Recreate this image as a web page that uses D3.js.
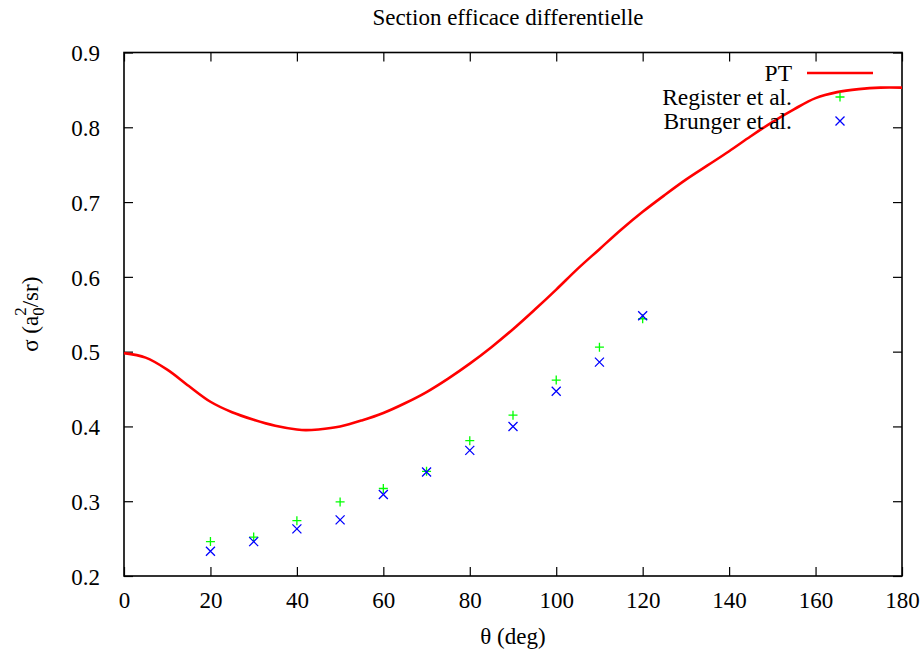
<!DOCTYPE html>
<html>
<head>
<meta charset="utf-8">
<script src="https://cdn.jsdelivr.net/npm/d3@7"></script>
<style>
  body { margin: 0; background: #fff; }
  text { font-family: "Liberation Serif", "DejaVu Serif", serif; fill: #000; }
</style>
</head>
<body>
<div class="chart-box"></div>
<script>
// PT curve
var pt_angle = [0, 5, 10, 15, 20, 25, 30, 35, 40, 42, 45, 50, 55, 60, 65, 70, 75, 80, 85, 90,
                95, 100, 105, 110, 115, 120, 125, 130, 135, 140, 145, 150, 155, 160, 165, 170, 175, 180];
var pt_sigma = [0.498, 0.492, 0.476, 0.454, 0.433, 0.419, 0.409, 0.401, 0.396, 0.395, 0.396, 0.400,
                0.408, 0.418, 0.431, 0.446, 0.464, 0.484, 0.506, 0.530, 0.556, 0.583, 0.611, 0.637,
                0.663, 0.687, 0.709, 0.730, 0.749, 0.768, 0.788, 0.807, 0.824, 0.839, 0.847, 0.851,
                0.853, 0.853];

var exp_angle = [20, 30, 40, 50, 60, 70, 80, 90, 100, 110, 120];
var register_sigma = [0.246, 0.252, 0.274, 0.299, 0.317, 0.340, 0.381, 0.415, 0.462, 0.506, 0.544];
var brunger_sigma = [0.233, 0.246, 0.263, 0.275, 0.309, 0.339, 0.368, 0.400, 0.447, 0.486, 0.548];

var x_ticks = [0, 20, 40, 60, 80, 100, 120, 140, 160, 180];
var y_ticks = [0.2, 0.3, 0.4, 0.5, 0.6, 0.7, 0.8, 0.9];

var margin = {top: 52.5, right: 22, bottom: 77, left: 124};
var svg_width = 924, svg_height = 653;
var plot_width = svg_width - margin.left - margin.right;
var plot_height = svg_height - margin.top - margin.bottom;
var serif = '"Liberation Serif", "DejaVu Serif", serif';

var svg = d3.select(".chart-box").append("svg")
    .attr("width", svg_width)
    .attr("height", svg_height);

var g = svg.append("g")
    .attr("transform", "translate(" + margin.left + "," + margin.top + ")");

var x = d3.scaleLinear().domain([0, 180]).range([0, plot_width]);
var y = d3.scaleLinear().domain([0.2, 0.9]).range([plot_height, 0]);

var tick_len = 9;

// axes with inward ticks, mirrored on top and right
function style_axis(sel) {
  sel.attr("font-family", serif).attr("font-size", 23);
  sel.select(".domain").remove();
  sel.selectAll(".tick line").attr("stroke", "#000").attr("stroke-width", 1.2);
  sel.selectAll(".tick text")
      .style("font-family", serif)
      .style("font-size", "23px");
}

g.append("g")
    .attr("transform", "translate(0," + plot_height + ")")
    .call(d3.axisBottom(x).tickValues(x_ticks).tickSizeInner(-tick_len).tickSizeOuter(0).tickPadding(22))
    .call(style_axis)
  .selectAll(".tick text").attr("dy", "0.45em");

g.append("g")
    .call(d3.axisTop(x).tickValues(x_ticks).tickSizeInner(-tick_len).tickSizeOuter(0).tickFormat(""))
    .call(style_axis);

g.append("g")
    .call(d3.axisLeft(y).tickValues(y_ticks).tickSizeInner(-tick_len).tickSizeOuter(0).tickPadding(24)
          .tickFormat(d3.format(".1f")))
    .call(style_axis)
  .selectAll(".tick text").attr("dy", "0.36em");

g.append("g")
    .attr("transform", "translate(" + plot_width + ",0)")
    .call(d3.axisRight(y).tickValues(y_ticks).tickSizeInner(-tick_len).tickSizeOuter(0).tickFormat(""))
    .call(style_axis);

// frame
g.append("rect")
    .attr("width", plot_width)
    .attr("height", plot_height)
    .attr("fill", "none")
    .attr("stroke", "#000")
    .attr("stroke-width", 1.6);

// PT curve
var pt_data = pt_angle.map(function(d, i) { return {a: d, s: pt_sigma[i]}; });
var line = d3.line()
    .x(function(d) { return x(d.a); })
    .y(function(d) { return y(d.s); })
    .curve(d3.curveCatmullRom.alpha(0.5));

g.append("path")
    .datum(pt_data)
    .attr("d", line)
    .attr("fill", "none")
    .attr("stroke", "#ff0000")
    .attr("stroke-width", 2.6);

var m = 4.5;
function plus_path(cx, cy) {
  return "M" + (cx - m) + "," + cy + "H" + (cx + m) + "M" + cx + "," + (cy - m) + "V" + (cy + m);
}
function cross_path(cx, cy) {
  return "M" + (cx - m) + "," + (cy - m) + "L" + (cx + m) + "," + (cy + m) +
         "M" + (cx - m) + "," + (cy + m) + "L" + (cx + m) + "," + (cy - m);
}

g.selectAll(".register")
    .data(exp_angle)
  .enter().append("path")
    .attr("class", "register")
    .attr("d", function(d, i) { return plus_path(x(d), y(register_sigma[i])); })
    .attr("stroke", "#00ff00")
    .attr("stroke-width", 1.3)
    .attr("fill", "none");

g.selectAll(".brunger")
    .data(exp_angle)
  .enter().append("path")
    .attr("class", "brunger")
    .attr("d", function(d, i) { return cross_path(x(d), y(brunger_sigma[i])); })
    .attr("stroke", "#0000ff")
    .attr("stroke-width", 1.3)
    .attr("fill", "none");

// legend
var legend = svg.append("g");
var leg_text_x = 792, leg_sym_x = 840, leg_y0 = 73;
var leg_items = ["PT", "Register et al.", "Brunger et al."];
legend.selectAll("text")
    .data(leg_items)
  .enter().append("text")
    .attr("x", leg_text_x)
    .attr("y", function(d, i) { return leg_y0 + i * 24 + 8; })
    .attr("text-anchor", "end")
    .style("font-size", "23.5px")
    .text(function(d) { return d; });

legend.append("line")
    .attr("x1", 807).attr("x2", 873)
    .attr("y1", leg_y0).attr("y2", leg_y0)
    .attr("stroke", "#ff0000").attr("stroke-width", 2.6);
legend.append("path")
    .attr("d", plus_path(leg_sym_x, leg_y0 + 24))
    .attr("stroke", "#00ff00").attr("stroke-width", 1.3);
legend.append("path")
    .attr("d", cross_path(leg_sym_x, leg_y0 + 48))
    .attr("stroke", "#0000ff").attr("stroke-width", 1.3);

// title and axis labels
svg.append("text")
    .attr("x", 508)
    .attr("y", 25)
    .attr("text-anchor", "middle")
    .style("font-size", "23px")
    .text("Section efficace differentielle");

svg.append("text")
    .attr("x", margin.left + plot_width / 2)
    .attr("y", 644)
    .attr("text-anchor", "middle")
    .style("font-size", "23px")
    .text("\u03b8 (deg)");

var ylab = svg.append("text")
    .attr("transform", "translate(38," + (margin.top + plot_height / 2) + ") rotate(-90)")
    .attr("text-anchor", "middle")
    .style("font-size", "23px");
ylab.append("tspan").text("\u03c3 (a");
ylab.append("tspan").attr("dy", 6).style("font-size", "17px").text("0");
ylab.append("tspan").attr("dy", -18).attr("dx", -8.5).style("font-size", "17px").text("2");
ylab.append("tspan").attr("dy", 12).text("/sr)");
</script>
</body>
</html>
